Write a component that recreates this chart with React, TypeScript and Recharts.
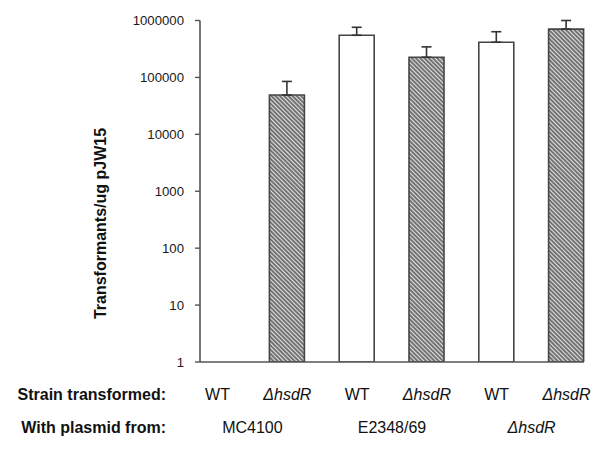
import { BarChart, Bar, XAxis, YAxis, ErrorBar, Cell } from 'recharts';

// strain that was transformed, one per bar
const strains = ['WT', 'ΔhsdR', 'WT', 'ΔhsdR', 'WT', 'ΔhsdR'];
// strain the plasmid was isolated from
const plasmidSources = ['MC4100', 'MC4100', 'E2348/69', 'E2348/69', 'ΔhsdR', 'ΔhsdR'];
// transformants per ug pJW15 (first bar has no colonies)
const means = [null, 49000, 550000, 226000, 415000, 705000];
// upper error (SD) above the mean
const upperErrors = [null, 36000, 210000, 118000, 220000, 295000];
const hatched = [false, true, false, true, false, true];
const yTicks = [1, 10, 100, 1000, 10000, 100000, 1000000];

const FONT = '"Liberation Sans", Arial, Helvetica, sans-serif';

const data = strains.map((strain, i) => ({
  strain,
  plasmid: plasmidSources[i],
  value: means[i],
  err: means[i] == null ? null : [0, upperErrors[i] as number],
}));

const StrainLabel = ({ label, x, y }: { label: string; x: number; y: number }) => {
  const isMutant = label.startsWith('Δ');
  return (
    <text
      x={x}
      y={y}
      textAnchor="middle"
      fontFamily={FONT}
      fontSize={16}
      fill="#111"
      fontStyle={isMutant ? 'italic' : 'normal'}
    >
      {label}
    </text>
  );
};

const StrainTick = (props: any) => {
  const { x, y, payload } = props;
  return <StrainLabel label={payload.value} x={x} y={y + 30} />;
};

const PlasmidTick = (props: any) => {
  const { x, y, payload } = props;
  return <StrainLabel label={payload.value} x={x} y={y + 33} />;
};

export default function App() {
  return (
    <div style={{ position: 'absolute', left: 0, top: 0, width: 600, height: 458, background: '#fff' }}>
      <BarChart
        width={600}
        height={458}
        data={data}
        margin={{ top: 20.5, right: 16, left: 120, bottom: 36 }}
        barSize={35}
      >
        <XAxis
          dataKey="strain"
          height={30}
          padding={{ left: -17.4, right: -17.4 }}
          axisLine={{ stroke: '#555', strokeWidth: 1.6 }}
          tickLine={false}
          tick={<StrainTick />}
          interval={0}
        />
        <XAxis
          xAxisId="plasmid"
          dataKey="plasmid"
          allowDuplicatedCategory={false}
          height={30}
          padding={{ left: -17.4, right: -17.4 }}
          axisLine={false}
          tickLine={false}
          tick={<PlasmidTick />}
          interval={0}
        />
        <YAxis
          scale="log"
          domain={[1, 1000000]}
          ticks={yTicks}
          allowDataOverflow
          width={80}
          tickSize={5}
          tickMargin={11}
          tickFormatter={(v: number) => String(v)}
          tick={{ fill: '#1a1a1a', fontSize: 13.2, fontFamily: FONT }}
          axisLine={{ stroke: '#555', strokeWidth: 1.6 }}
          tickLine={{ stroke: '#555', strokeWidth: 1.4 }}
        />
        <Bar dataKey="value" stroke="#454545" strokeWidth={1.6} isAnimationActive={false}>
          {data.map((d, i) => (
            <Cell key={`bar-${i}`} fill={hatched[i] ? 'url(#hatch)' : '#fff'} />
          ))}
          <ErrorBar dataKey="err" direction="y" width={5} stroke="#333" strokeWidth={1.6} isAnimationActive={false} />
        </Bar>
      </BarChart>

      {/* pattern + row titles drawn on top of the chart */}
      <svg
        width={600}
        height={458}
        style={{ position: 'absolute', left: 0, top: 0, pointerEvents: 'none' }}
      >
        <defs>
          <pattern id="hatch" width="3" height="3" patternUnits="userSpaceOnUse" patternTransform="rotate(-45)">
            <rect width="3" height="3" fill="#e2e2e2" />
            <line x1="1" y1="0" x2="1" y2="3" stroke="#444" strokeWidth="1.4" />
          </pattern>
        </defs>
        <text
          transform="translate(106,223.5) rotate(-90)"
          textAnchor="middle"
          fontFamily={FONT}
          fontSize={16}
          fontWeight="bold"
          fill="#111"
        >
          Transformants/ug pJW15
        </text>
        <text x={166} y={400} textAnchor="end" fontFamily={FONT} fontSize={16} fontWeight="bold" fill="#111">
          Strain transformed:
        </text>
        <text x={166} y={433} textAnchor="end" fontFamily={FONT} fontSize={16} fontWeight="bold" fill="#111">
          With plasmid from:
        </text>
      </svg>
    </div>
  );
}
